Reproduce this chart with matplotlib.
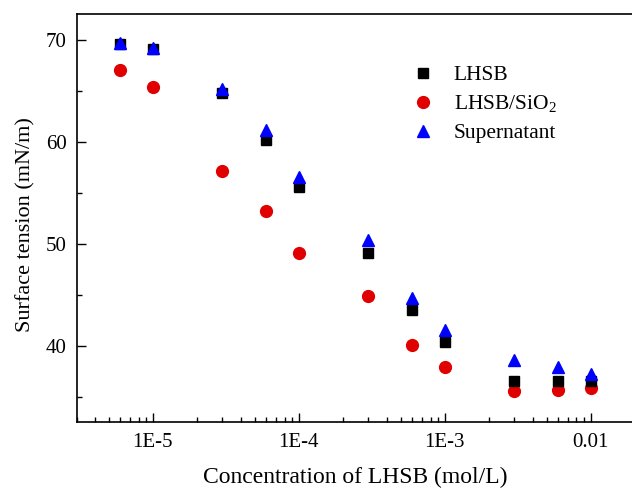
import matplotlib
matplotlib.use("Agg")
import matplotlib.pyplot as plt
from matplotlib.ticker import LogLocator, FixedLocator, FixedFormatter, MultipleLocator

plt.rcParams['font.family'] = ['Liberation Serif', 'DejaVu Serif']
plt.rcParams['mathtext.fontset'] = 'custom'
plt.rcParams['mathtext.rm'] = 'Liberation Serif'

conc = [6e-6, 1e-5, 3e-5, 6e-5, 1e-4, 3e-4, 6e-4, 1e-3, 3e-3, 6e-3, 1e-2]
lhsb = [69.6, 69.1, 64.8, 60.2, 55.6, 49.1, 43.6, 40.4, 36.6, 36.6, 36.6]
lhsb_sio2 = [67.0, 65.4, 57.1, 53.2, 49.1, 44.9, 40.1, 38.0, 35.6, 35.7, 35.9]
supernatant = [69.7, 69.2, 65.2, 61.2, 56.6, 50.4, 44.7, 41.6, 38.7, 38.0, 37.3]
xtick_vals = [1e-5, 1e-4, 1e-3, 1e-2]
xtick_labels = ['1E-5', '1E-4', '1E-3', '0.01']

fig = plt.figure(figsize=(6.32, 4.92), dpi=100)
ax = fig.add_axes([76.5/632, 1-422/492, 558/632, (422-14)/492])

ax.plot(conc, lhsb, 's', color='black', markersize=7, label='LHSB', zorder=3)
ax.plot(conc, lhsb_sio2, 'o', color='#e00000', markersize=8.5, label='LHSB/SiO$_2$', zorder=2)
ax.plot(conc, supernatant, '^', color='#0000ff', markersize=8.5, label='Supernatant', zorder=4)

ax.set_xscale('log')
ax.set_xlim(3e-6, 2e-2)
ax.set_ylim(32.6, 72.5)

ax.xaxis.set_major_locator(FixedLocator(xtick_vals))
ax.xaxis.set_major_formatter(FixedFormatter(xtick_labels))
ax.xaxis.set_minor_locator(LogLocator(base=10, subs=range(2, 10), numticks=20))
ax.yaxis.set_major_locator(MultipleLocator(10))
ax.yaxis.set_minor_locator(MultipleLocator(5))

ax.tick_params(which='both', direction='in', labelsize=15, width=1.0)
ax.tick_params(which='major', length=6.5)
ax.tick_params(axis='x', which='major', pad=8)
ax.tick_params(axis='y', which='major', pad=7)
ax.tick_params(which='minor', length=3.5)
ax.tick_params(axis='x', which='minor', labelbottom=False)
for s in ax.spines.values():
    s.set_linewidth(1.2)

ax.set_xlabel('Concentration of LHSB (mol/L)', fontsize=17)
ax.xaxis.set_label_coords(0.5, -0.11)
ax.set_ylabel('Surface tension (mN/m)', fontsize=16)
ax.yaxis.set_label_coords(-0.074, 0.483)

leg = ax.legend(loc='upper left', bbox_to_anchor=(387/632, 1-46/492), bbox_transform=fig.transFigure,
                frameon=False, fontsize=15.5, handletextpad=0.7, labelspacing=0.38, handlelength=1.5)

fig.savefig('out.png', dpi=100)
